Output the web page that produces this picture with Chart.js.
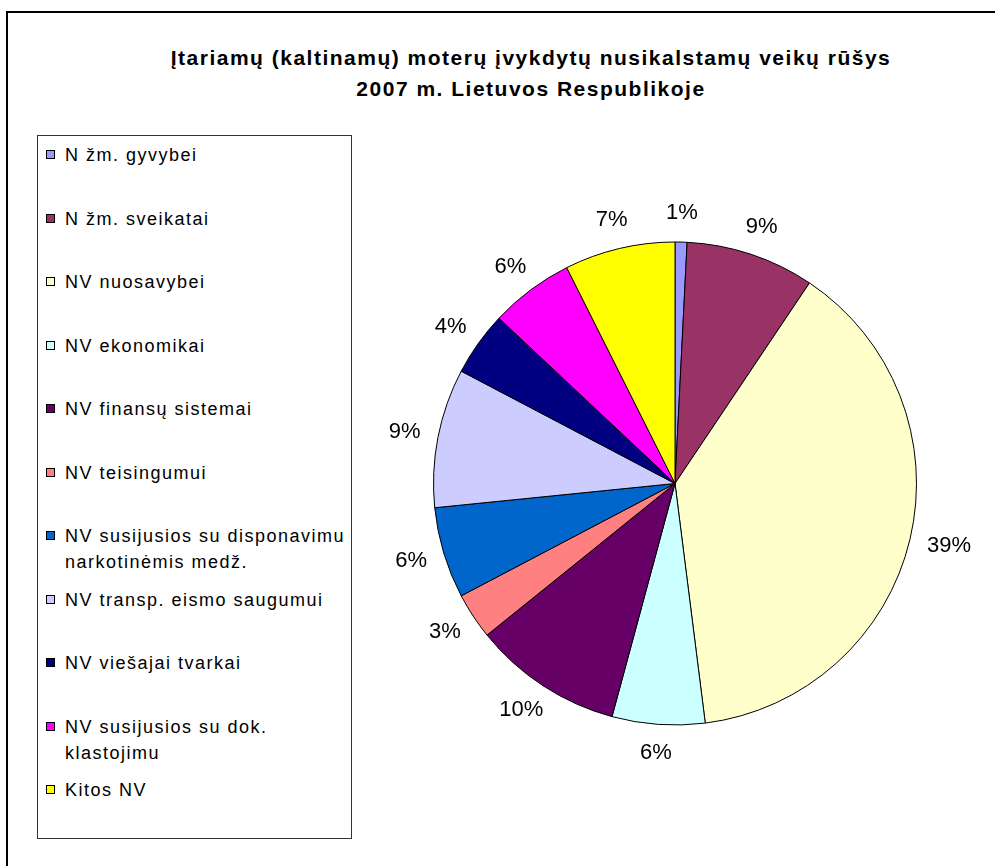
<!DOCTYPE html>
<html>
<head>
<meta charset="utf-8">
<script src="https://cdn.jsdelivr.net/npm/chart.js@4/dist/chart.umd.min.js"></script>
<style>
    body { margin: 0; width: 995px; height: 866px; overflow: hidden; background: #fff; position: relative; font-family: 'Liberation Sans', Arial, sans-serif; }
    #frame { position: absolute; left: 6px; top: 11px; width: 1100px; height: 1000px; border-left: 2px solid #000; border-top: 2px solid #000; }
    #title { position: absolute; left: 0; top: 42px; width: 1062px; text-align: center; font-weight: bold; font-size: 21px; line-height: 31px; letter-spacing: 1.5px; color: #000; }
    #legend { position: absolute; left: 37px; top: 135px; width: 315px; height: 704px; box-sizing: border-box; border: 1px solid #333; }
    .legend-item { position: absolute; left: 8px; display: flex; align-items: flex-start; font-size: 18px; line-height: 26px; letter-spacing: 1.5px; color: #000; white-space: nowrap; }
    .legend-box { width: 7px; height: 7px; border: 1px solid #000; margin-top: 8px; margin-right: 10px; flex: none; }
    #pie { position: absolute; left: 0; top: 0; }
</style>
</head>
<body>
<div id="frame"></div>
<div id="title">Įtariamų (kaltinamų) moterų įvykdytų nusikalstamų veikų rūšys<br>2007 m. Lietuvos Respublikoje</div>
<div id="legend"></div>
<canvas id="pie" width="995" height="866"></canvas>

<script>
// categories (multi-line ones as arrays, like in the original legend)
const categories = [
    'N žm. gyvybei',
    'N žm. sveikatai',
    'NV nuosavybei',
    'NV ekonomikai',
    'NV finansų sistemai',
    'NV teisingumui',
    ['NV susijusios su disponavimu', 'narkotinėmis medž.'],
    'NV transp. eismo saugumui',
    'NV viešajai tvarkai',
    ['NV susijusios su dok.', 'klastojimu'],
    'Kitos NV'
];

// shares in percent
const shares = [0.8, 8.6, 38.6, 6.2, 10.0, 3.1, 6.1, 9.3, 4.3, 5.6, 7.4];

const sliceColors = [
    '#9999FF', '#993366', '#FFFFCC', '#CCFFFF', '#660066', '#FF8080',
    '#0066CC', '#CCCCFF', '#000080', '#FF00FF', '#FFFF00'
];

const FONT = "'Liberation Sans', Arial, sans-serif";
const LABEL_GAP = 18;
const LEGEND_SLOT = 63.5;

// legend in the left box
let legendHtml = '';
for (let i = 0; i < categories.length; i++) {
    let text = Array.isArray(categories[i]) ? categories[i].join('<br>') : categories[i];
    legendHtml += `
        <div class="legend-item" style="top:${6 + i * LEGEND_SLOT}px">
            <span class="legend-box" style="background:${sliceColors[i]}"></span>
            <span>${text}</span>
        </div>`;
}
document.getElementById('legend').innerHTML = legendHtml;

// percent labels outside the pie
const outsideLabels = {
    id: 'outsideLabels',
    afterDatasetsDraw(chart) {
        let ctx = chart.ctx;
        let meta = chart.getDatasetMeta(0);
        let data = chart.data.datasets[0].data;
        let total = data.reduce((a, b) => a + b, 0);
        ctx.save();
        ctx.font = '22px ' + FONT;
        ctx.fillStyle = '#000';
        ctx.textAlign = 'center';
        ctx.textBaseline = 'middle';
        meta.data.forEach((arc, i) => {
            let mid = (arc.startAngle + arc.endAngle) / 2;
            let cos = Math.cos(mid), sin = Math.sin(mid);
            let r = arc.outerRadius + LABEL_GAP;
            let text = Math.round(data[i] / total * 100) + '%';
            let w = ctx.measureText(text).width;
            let x = arc.x + cos * r + cos * w / 2;
            let y = arc.y + sin * r + sin * 11;
            ctx.fillText(text, x, y);
        });
        ctx.restore();
    }
};

new Chart(document.getElementById('pie'), {
    type: 'pie',
    data: {
        labels: categories,
        datasets: [{
            data: shares,
            backgroundColor: sliceColors,
            borderColor: '#000',
            borderWidth: 1
        }]
    },
    options: {
        responsive: false,
        animation: false,
        layout: { padding: { left: 433, right: 78, top: 241, bottom: 140 } },
        plugins: {
            legend: { display: false },
            title: { display: false },
            tooltip: { enabled: false }
        }
    },
    plugins: [outsideLabels]
});
</script>
</body>
</html>
